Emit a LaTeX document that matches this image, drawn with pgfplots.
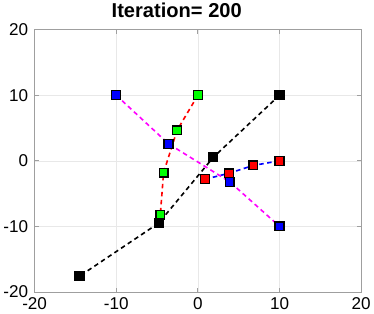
\documentclass[border=0pt]{standalone}
\usepackage{pgfplots}
\pgfplotsset{compat=1.18}
\usepackage{fontspec}
\setmainfont{Liberation Sans}
\definecolor{mmag}{rgb}{1,0,1}
\definecolor{mgreen}{rgb}{0,1,0}
\begin{document}
\begin{tikzpicture}
\begin{axis}[
  scale only axis, width=325pt, height=261pt,
  xmin=-20, xmax=20, ymin=-20, ymax=20,
  xtick={-20,-10,0,10,20}, ytick={-20,-10,0,10,20},
  tick align=inside, major tick length=4pt,
  grid=major, grid style={gray!18, line width=0.6pt},
  axis line style={gray!75, line width=0.8pt},
  tick style={gray!75, line width=0.8pt},
  ticklabel style={font=\fontsize{17}{17}\selectfont},
  /pgf/number format/assume math mode=true,
  title={\bfseries Iteration= 200},
  title style={font=\fontsize{20}{20}\selectfont, yshift=2pt, xshift=-21pt},
  yticklabel style={xshift=-3pt},
  xticklabel style={yshift=-2.5pt},
  every axis plot/.append style={line width=1.6pt, dash pattern=on 4.5pt off 3.5pt},
  mark size=4.4pt,
]
\addplot[black, mark=square*, mark options={solid, line width=1.3pt, fill=black, draw=black}] coordinates {(10,10) (1.9,0.55) (-4.8,-9.5) (-14.5,-17.6)};
\addplot[blue, mark=square*, mark options={solid, line width=1.3pt, fill=red, draw=black}] coordinates {(10,0) (6.8,-0.7) (3.8,-1.9) (0.9,-2.8)};
\addplot[mmag, mark=square*, mark options={solid, line width=1.3pt, fill=blue, draw=black}] coordinates {(-10,10) (-3.6,2.6) (3.9,-3.2) (10,-10)};
\addplot[red, mark=square*, mark options={solid, line width=1.3pt, fill=mgreen, draw=black}] coordinates {(0,10) (-2.55,4.65) (-4.2,-1.8) (-4.6,-8.2)};
\end{axis}
\end{tikzpicture}
\end{document}
